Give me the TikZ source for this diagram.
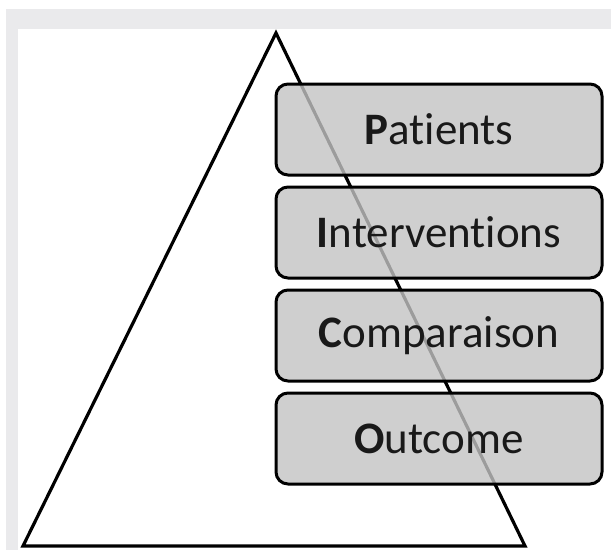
\documentclass[tikz,border=0pt]{standalone}
\usepackage{fontspec}
\setmainfont{Carlito}[RawFeature=-liga]
\definecolor{bandgray}{HTML}{EAEAEC}
\definecolor{boxgray}{HTML}{C4C4C4}
\begin{document}
\begin{tikzpicture}[x=1pt,y=-1pt,
  pico/.style={draw=black, line width=3pt, rounded corners=12pt,
    fill=boxgray, fill opacity=0.8, text opacity=1,
    minimum width=326pt, minimum height=91pt, inner sep=0pt,
    font=\fontsize{45}{54}\selectfont, text=black!90},
  tri/.style={draw=black, line width=3.2pt, line join=miter}]
\useasboundingbox (0,0) rectangle (611,550);
\fill[white] (0,0) rectangle (611,550);
\fill[bandgray] (6,9) rectangle (611,29);
\fill[bandgray] (6,29) rectangle (18,550);
\coordinate (apex) at (276,33);
\coordinate (bl) at (23,546);
\coordinate (br) at (525,546);
\draw[tri] (apex) -- (bl) -- (br) -- cycle;
\node[pico] (P) at (439,129.5) {\textbf{P}atients};
\node[pico] (I) at (439,232.5) {\textbf{I}nterventions};
\node[pico] (C) at (439,335.5) {\textbf{C}omparaison};
\node[pico] (O) at (439,438.5) {\textbf{O}utcome};
\end{tikzpicture}
\end{document}
